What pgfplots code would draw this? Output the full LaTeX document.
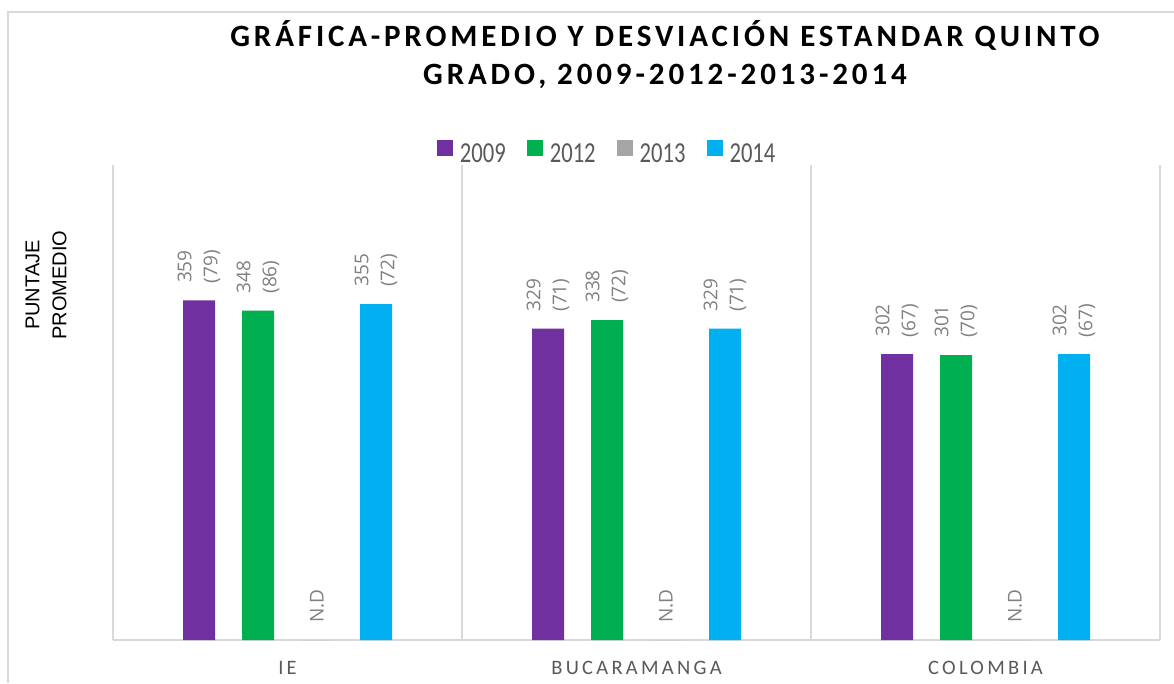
\documentclass[border=0pt]{standalone}
\usepackage{fontspec}
\usepackage{pgfplots}
\pgfplotsset{compat=1.18}
\setmainfont{Carlito}
\newfontfamily\titlefont[LetterSpace=12.5]{Carlito}
\newfontfamily\legendfont[FakeStretch=0.78]{Carlito}
\newfontfamily\catfont[LetterSpace=16]{Carlito}
\newfontfamily\labelfont{Open Sans}
\newfontfamily\yfont{Liberation Sans}
\definecolor{c2009}{HTML}{7030A0}
\definecolor{c2012}{HTML}{00B050}
\definecolor{c2013}{HTML}{A5A5A5}
\definecolor{c2014}{HTML}{00B0F0}
\definecolor{gridgray}{HTML}{D9D9D9}
\definecolor{txtgray}{HTML}{595959}
\definecolor{lblgray}{HTML}{808080}
\pgfplotsset{sqlegend/.style={legend image code/.code={\fill[##1] (0pt,-2pt) rectangle (16pt,14pt);}}}
\begin{document}
\begin{tikzpicture}[x=1pt,y=1pt]
\begin{scope}[shift={(-113pt,-43pt)}]
\path[use as bounding box] (0,0) rectangle (1174,683);
\draw[gridgray, line width=1.5pt] (8,0) -- (8,671) -- (1174,671);
\node[anchor=base, font={\titlefont\bfseries\fontsize{31}{37}\selectfont}] at (665,636) {GRÁFICA-PROMEDIO Y DESVIACIÓN ESTANDAR QUINTO};
\node[anchor=base, font={\titlefont\bfseries\fontsize{31}{37}\selectfont}] at (665,598) {GRADO, 2009-2012-2013-2014};
\node[rotate=90, align=center, font={\yfont\fontsize{20}{27}\selectfont}] at (46,398) {PUNTAJE\\PROMEDIO};
\end{scope}
\begin{axis}[anchor=south west, scale only axis,
  width=1047pt, height=475pt,
  xmin=-0.5, xmax=2.5, ymin=0, ymax=502,
  ybar=27pt, bar width=32pt,
  axis x line*=bottom, axis y line*=left,
  x axis line style={gridgray, line width=1.2pt, -},
  y axis line style={draw=none},
  ytick=\empty,
  xtick={0,1,2}, xticklabels={IE,BUCARAMANGA,COLOMBIA},
  major tick length=0pt,
  xticklabel style={font={\catfont\fontsize{20.5}{24}\selectfont}, text=txtgray, yshift=-18pt},
  extra x ticks={-0.5,0.5,1.5,2.5}, extra x tick labels={},
  extra x tick style={grid=major, major grid style={gridgray, line width=1.2pt}},
  nodes near coords, point meta=explicit symbolic,
  every node near coord/.append style={rotate=90, anchor=west, font={\labelfont\fontsize{19}{26}\selectfont}, text=lblgray, align=center, inner xsep=17pt},
  legend columns=4,
  legend style={draw=none, fill=none, at={(0.472,1.0253)}, anchor=center,
    font={\legendfont\fontsize{29}{30}\selectfont}, text=txtgray,
    /tikz/every odd column/.append style={column sep=5pt},
    /tikz/every even column/.append style={column sep=19pt}},
]
\addplot[fill=c2009, draw=none, sqlegend] coordinates {(0,359) [{359\\(79)}] (1,329) [{329\\(71)}] (2,302) [{302\\(67)}]};
\addplot[fill=c2012, draw=none, sqlegend] coordinates {(0,348) [{348\\(86)}] (1,338) [{338\\(72)}] (2,301) [{301\\(70)}]};
\addplot[fill=c2013, draw=none, sqlegend] coordinates {(0,0) [N.D] (1,0) [N.D] (2,0) [N.D]};
\addplot[fill=c2014, draw=none, sqlegend] coordinates {(0,355) [{355\\(72)}] (1,329) [{329\\(71)}] (2,302) [{302\\(67)}]};
\legend{2009,2012,2013,2014}
\end{axis}
\end{tikzpicture}
\end{document}
